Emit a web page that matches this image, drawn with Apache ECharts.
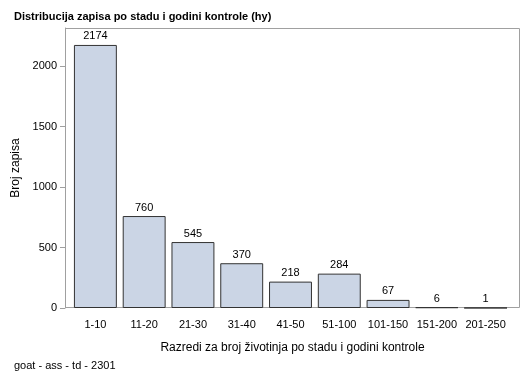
<!DOCTYPE html>
<html>
<head>
<meta charset="utf-8">
<script src="https://cdn.jsdelivr.net/npm/echarts@6/dist/echarts.min.js"></script>
<style>
  html, body { margin: 0; padding: 0; background: #fff; }
  #chart { width: 529px; height: 378px; }
</style>
</head>
<body>
<div id="chart"></div>
<script>
const categories = ['1-10', '11-20', '21-30', '31-40', '41-50', '51-100', '101-150', '151-200', '201-250']
const counts = [2174, 760, 545, 370, 218, 284, 67, 6, 1]
const font = 'Arial, "Liberation Sans", sans-serif'

const chart = echarts.init(document.getElementById('chart'))
chart.setOption({
  animation: false,
  textStyle: { fontFamily: font },
  title: [
    {
      text: 'Distribucija zapisa po stadu i godini kontrole (hy)',
      left: 9, top: 6,
      textStyle: { fontSize: 11, fontWeight: 'bold', color: '#000', fontFamily: font }
    },
    {
      text: 'goat - ass - td - 2301',
      left: 9, top: 355,
      textStyle: { fontSize: 11, fontWeight: 'normal', color: '#000', fontFamily: font }
    }
  ],
  // plot frame (wider than the category band, as in the original)
  graphic: [{
    type: 'rect',
    shape: { x: 65.5, y: 28.5, width: 454, height: 279 },
    style: { fill: 'none', stroke: '#a0a0a0', lineWidth: 1 },
    z: 0
  }],
  grid: {
    left: 71, right: 19, top: 28, bottom: 70
  },
  xAxis: {
    type: 'category',
    data: categories,
    name: 'Razredi za broj životinja po stadu i godini kontrole',
    nameLocation: 'middle',
    nameGap: 34,
    nameTextStyle: { fontSize: 12, color: '#000', padding: [0, 0, 0, 4] },
    axisLine: { show: false },
    axisTick: { alignWithLabel: true, interval: 0, length: 5, lineStyle: { color: '#a0a0a0' } },
    axisLabel: { fontSize: 11, color: '#000', margin: 11, interval: 0 }
  },
  yAxis: {
    type: 'value',
    min: 0, max: 2314, interval: 500,
    offset: 6,
    name: 'Broj zapisa',
    nameLocation: 'middle',
    nameGap: 41,
    nameTextStyle: { fontSize: 12, color: '#000' },
    axisLine: { show: true, lineStyle: { color: '#a0a0a0' } },
    axisTick: { show: true, length: 5, lineStyle: { color: '#a0a0a0' } },
    axisLabel: { fontSize: 11, color: '#000', margin: 8, showMaxLabel: false, formatter: v => String(v) },
    splitLine: { show: false }
  },
  series: [{
    type: 'bar',
    data: counts,
    barCategoryGap: '12%',
    itemStyle: { color: '#cbd5e5', borderColor: '#333', borderWidth: 1 },
    label: { show: true, position: 'top', distance: 3, fontSize: 11, color: '#000' }
  }]
})
</script>
</body>
</html>
